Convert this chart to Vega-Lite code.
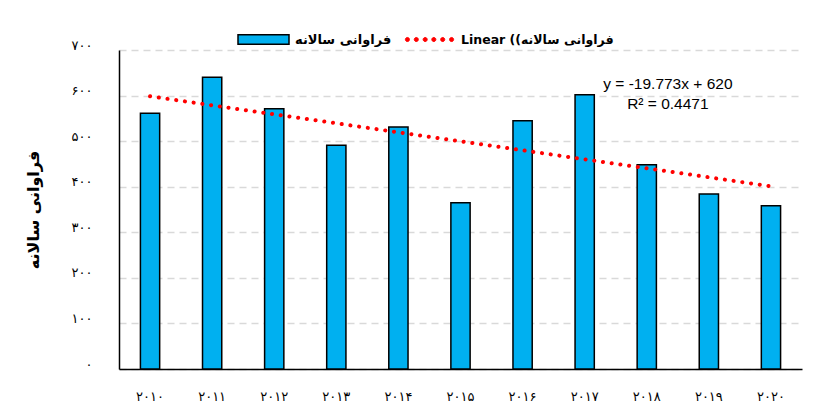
{
  "$schema": "https://vega.github.io/schema/vega-lite/v6.json",
  "width": 683,
  "height": 319,
  "autosize": {"type": "none"},
  "padding": {"left": 119, "top": 50, "right": 11, "bottom": 45},
  "background": "white",
  "config": {"view": {"stroke": null}, "font": "DejaVu Sans"},
  "datasets": {
    "freq": [
      {"year": "۲۰۱۰", "idx": 1, "freq": 561},
      {"year": "۲۰۱۱", "idx": 2, "freq": 640},
      {"year": "۲۰۱۲", "idx": 3, "freq": 571},
      {"year": "۲۰۱۳", "idx": 4, "freq": 491},
      {"year": "۲۰۱۴", "idx": 5, "freq": 531},
      {"year": "۲۰۱۵", "idx": 6, "freq": 365},
      {"year": "۲۰۱۶", "idx": 7, "freq": 545},
      {"year": "۲۰۱۷", "idx": 8, "freq": 602},
      {"year": "۲۰۱۸", "idx": 9, "freq": 448},
      {"year": "۲۰۱۹", "idx": 10, "freq": 384},
      {"year": "۲۰۲۰", "idx": 11, "freq": 358}
    ],
    "eq": [
      {"label": "y = -19.773x + 620", "xi": 9.34, "yv": 626},
      {"label": "R² = 0.4471", "xi": 9.34, "yv": 582}
    ]
  },
  "layer": [
    {
      "data": {"name": "freq"},
      "mark": {"type": "bar", "stroke": "#000000", "strokeWidth": 1.5},
      "encoding": {
        "x": {
          "field": "year", "type": "nominal", "sort": null,
          "scale": {"paddingInner": 0.69, "paddingOuter": 0.345},
          "axis": {"title": null, "labelAngle": 0, "labelFontSize": 13, "labelPadding": 21, "ticks": false,
                   "domainColor": "#000000", "domainWidth": 1.5, "labelColor": "#000000", "grid": false, "labelFont": "DejaVu Sans"}
        },
        "y": {
          "field": "freq", "type": "quantitative",
          "scale": {"domain": [0, 700], "nice": false},
          "axis": {
            "title": "فراوانی سالانه",
            "values": [0, 100, 200, 300, 400, 500, 600, 700],
            "labelExpr": "['۰','۱۰۰','۲۰۰','۳۰۰','۴۰۰','۵۰۰','۶۰۰','۷۰۰'][round(datum.value/100)]",
            "grid": true, "gridDash": [7, 5], "gridColor": "#d9d9d9", "gridWidth": 1.5,
            "ticks": false, "domainColor": "#000000", "domainWidth": 1.5,
            "labelPadding": 27, "labelFontSize": 13, "labelOffset": -5, "labelColor": "#000000", "labelFont": "DejaVu Sans",
            "titleFont": "DejaVu Sans", "titleFontSize": 16, "titleFontWeight": "bold", "titleColor": "#000000", "titlePadding": 30
          }
        },
        "fill": {
          "datum": "فراوانی سالانه", "type": "nominal",
          "scale": {"range": ["#00b0f0"]},
          "legend": {
            "title": null, "orient": "none", "legendX": 118, "legendY": -37, "padding": 0,
            "symbolType": "M-1,-0.19L1,-0.19L1,0.19L-1,0.19Z", "symbolSize": 2601,
            "symbolStrokeColor": "#000000", "symbolStrokeWidth": 1.5, "symbolFillColor": "#00b0f0",
            "labelFont": "DejaVu Sans", "labelFontWeight": "bold", "labelFontSize": 13, "labelColor": "#000000", "labelOffset": 5
          }
        }
      }
    },
    {
      "data": {"name": "freq"},
      "transform": [{"regression": "freq", "on": "idx"}],
      "mark": {"type": "line", "strokeDash": [0.1, 8.7], "strokeCap": "round", "strokeWidth": 4},
      "encoding": {
        "x": {"field": "idx", "type": "quantitative", "scale": {"domain": [0.5, 11.5], "nice": false, "zero": false}, "axis": null},
        "y": {"field": "freq", "type": "quantitative"},
        "stroke": {
          "datum": "Linear ((فراوانی سالانه", "type": "nominal",
          "scale": {"range": ["#ff0000"]},
          "legend": {
            "title": null, "orient": "none", "legendX": 286, "legendY": -35, "padding": 0,
            "symbolType": "M-1.005,0A0.085,0.085,0,1,0,-0.835,0A0.085,0.085,0,1,0,-1.005,0ZM-0.635,0A0.085,0.085,0,1,0,-0.465,0A0.085,0.085,0,1,0,-0.635,0ZM-0.265,0A0.085,0.085,0,1,0,-0.095,0A0.085,0.085,0,1,0,-0.265,0ZM0.095,0A0.085,0.085,0,1,0,0.265,0A0.085,0.085,0,1,0,0.095,0ZM0.465,0A0.085,0.085,0,1,0,0.635,0A0.085,0.085,0,1,0,0.465,0ZM0.835,0A0.085,0.085,0,1,0,1.005,0A0.085,0.085,0,1,0,0.835,0Z",
            "symbolSize": 2304, "symbolStrokeColor": "#ff0000", "symbolFillColor": "#ff0000", "symbolStrokeWidth": 1,
            "labelFont": "DejaVu Sans", "labelFontWeight": "bold", "labelFontSize": 12.5, "labelColor": "#000000", "labelOffset": 7
          }
        }
      }
    },
    {
      "data": {"name": "eq"},
      "mark": {"type": "text", "font": "Liberation Sans", "fontSize": 15.5, "fill": "#000000", "baseline": "middle"},
      "encoding": {
        "x": {"field": "xi", "type": "quantitative", "scale": {"domain": [0.5, 11.5], "nice": false, "zero": false}, "axis": null},
        "y": {"field": "yv", "type": "quantitative"},
        "text": {"field": "label"}
      }
    }
  ],
  "resolve": {"scale": {"x": "independent", "fill": "independent", "stroke": "independent"}}
}
